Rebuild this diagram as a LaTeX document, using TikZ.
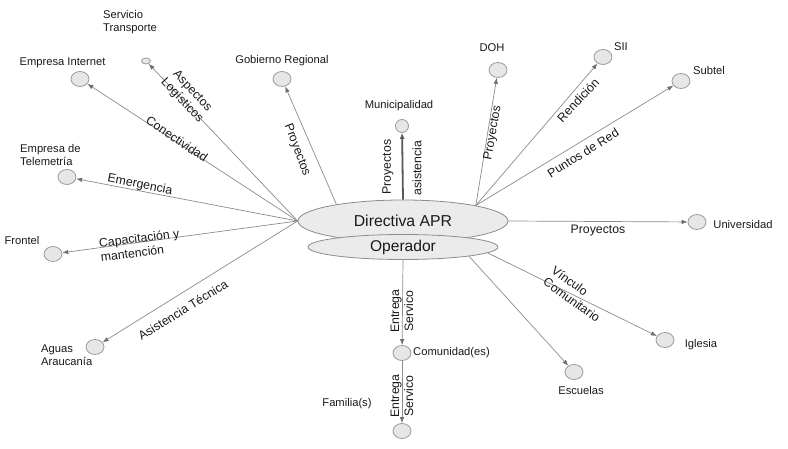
\documentclass[tikz,border=0pt]{standalone}
\usepackage{fontspec}
\setmainfont{Liberation Sans}
\usetikzlibrary{arrows.meta,shapes.geometric}
\definecolor{txt}{HTML}{1A1A1A}
\definecolor{lin}{HTML}{8C8C8C}
\definecolor{tip}{HTML}{6E6E6E}
\definecolor{cfill}{HTML}{E6E6E6}
\definecolor{cdraw}{HTML}{9A9A9A}
\definecolor{efill}{HTML}{EBEBEB}
\begin{document}
\begin{tikzpicture}[x=1pt,y=-1pt,
  endpt/.style={ellipse, draw=cdraw, fill=cfill, line width=0.8pt, minimum width=18pt, minimum height=15pt, inner sep=0pt},
  bigell/.style={ellipse, draw=lin, fill=efill, line width=0.8pt, inner sep=0pt, text=txt},
  conn/.style={draw=lin, line width=0.7pt, -{Latex[length=6pt,width=4.5pt,fill=tip,color=tip]}},
  strong/.style={draw=black!65, line width=1.8pt, -{Latex[length=6pt,width=5pt]}},
  nlab/.style={font=\fontsize{11.2}{13}\selectfont, text=txt, inner sep=0pt},
  elab/.style={font=\fontsize{12.3}{14}\selectfont, text=txt, inner sep=0pt}]
\useasboundingbox (0,0) rectangle (788,449);
\fill[white] (0,0) rectangle (788,449);

% main ellipses
\node[bigell, minimum width=210pt, minimum height=42pt, font=\fontsize{15.8}{18}\selectfont] (dir) at (403,221) {};
\node[bigell, minimum width=190pt, minimum height=25pt, font=\fontsize{15.6}{18}\selectfont] (op) at (403,247) {Operador};
\node[text=txt, inner sep=0pt, font=\fontsize{15.8}{18}\selectfont] (dirt) at (403,221) {Directiva APR};

% end nodes
\node[endpt, minimum width=9pt, minimum height=6pt] (st) at (146,61) {};
\node[endpt] (ei) at (80,79) {};
\node[endpt] (gr) at (282,79) {};
\node[endpt] (et) at (67,177) {};
\node[endpt] (fr) at (53,254) {};
\node[endpt] (aa) at (95,347) {};
\node[endpt, minimum width=13pt, minimum height=13pt] (mu) at (402,126) {};
\node[endpt] (doh) at (498,70) {};
\node[endpt] (sii) at (603,57) {};
\node[endpt] (sub) at (681,81) {};
\node[endpt] (uni) at (697,222) {};
\node[endpt] (igl) at (665,340) {};
\node[endpt] (esc) at (574,372) {};
\node[endpt] (com) at (402,353) {};
\node[endpt] (fam) at (402,431) {};

% node labels
\node[nlab, align=left, anchor=west] (stl) at (103,22.5) {Servicio\\Transporte};
\node[nlab] (eil) at (62.5,63) {Empresa Internet};
\node[nlab] (grl) at (282,61) {Gobierno Regional};
\node[nlab, align=left, anchor=west] (etl) at (20,155) {Empresa de\\Telemetría};
\node[nlab] (frl) at (22,240) {Frontel};
\node[nlab, align=left, anchor=west] (aal) at (41,355) {Aguas\\Araucanía};
\node[nlab] (mul) at (399,106) {Municipalidad};
\node[nlab] (dohl) at (492,48) {DOH};
\node[nlab] (siil) at (621,47) {SII};
\node[nlab] (subl) at (709,70) {Subtel};
\node[nlab] (unil) at (743,224) {Universidad};
\node[nlab] (igll) at (701,345) {Iglesia};
\node[nlab] (escl) at (581,390) {Escuelas};
\node[nlab, anchor=west] (coml) at (413,353) {Comunidad(es)};
\node[nlab] (faml) at (347,404) {Familia(s)};

% connectors
\draw[conn] (dir.west) -- (st);
\draw[conn] (dir.west) -- (ei);
\draw[conn] (dir.west) -- (et);
\draw[conn] (dir.west) -- (fr);
\draw[conn] (dir.west) -- (aa);
\draw[conn] (dir.166) -- (gr);
\draw[strong] (dir.north) -- (mu);
\draw[conn] (dir.12) -- (doh);
\draw[conn] (dir.12) -- (sii);
\draw[conn] (dir.12) -- (sub);
\draw[conn] (dir.east) -- (uni);
\draw[conn] (op.-4) -- (igl);
\draw[conn] (op.-8) -- (esc);
\draw[conn] (op.south) -- (com);
\draw[conn] (com) -- (fam);

% edge labels
\node[elab, align=center, rotate=-46.5] (l1) at (187,96) {Aspectos\\Logísticos};
\node[elab, rotate=-34] (l2) at (177,139) {Conectividad};
\node[elab, rotate=-11] (l3) at (140,185) {Emergencia};
\node[elab, align=left, rotate=7.4] (l4) at (140,245) {Capacitación y\\mantención};
\node[elab, rotate=31.6] (l5) at (183,310) {Asistencia Técnica};
\node[elab, rotate=-69.6] (l6) at (297,150) {Proyectos};
\node[elab, rotate=90] (l7) at (388,167) {Proyectos};
\node[elab, rotate=90] (l8) at (417,168) {asistencia};
\node[elab, rotate=80] (l9) at (493,133) {Proyectos};
\node[elab, rotate=47] (l10) at (578,100) {Rendición};
\node[elab, rotate=32] (l11) at (583,153) {Puntos de Red};
\node[elab] (l12) at (598,231) {Proyectos};
\node[elab, align=left, rotate=-36] (l13) at (576,294) {Vínculo\\Comunitario};
\node[elab, align=center, rotate=90] (l14) at (402,311) {Entrega\\Servico};
\node[elab, align=center, rotate=90] (l15) at (402,396) {Entrega\\Servico};
\end{tikzpicture}
\end{document}
